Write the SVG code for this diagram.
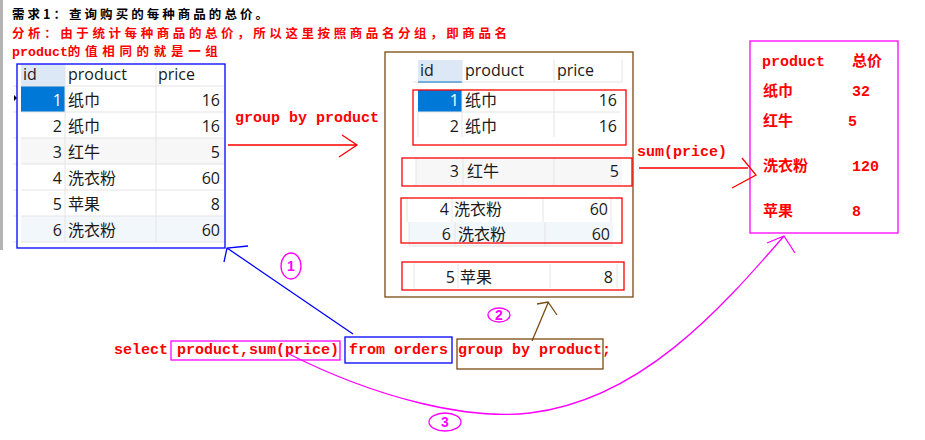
<svg xmlns="http://www.w3.org/2000/svg" width="925" height="440" viewBox="0 0 925 440">
<style>
.t{font-family:"Open Sans","Noto Sans CJK SC",sans-serif;font-size:16px;fill:#1a1a1a}
.e{text-anchor:end}
.w{fill:#ffffff}
.r{font-family:"Liberation Mono","Noto Sans CJK SC",monospace;font-weight:bold;font-size:15px;fill:#ff0000}
.h{font-family:"Noto Sans CJK SC",sans-serif;font-weight:bold;font-size:12.5px}
.g{stroke:#e4e4e4;stroke-width:1;fill:none}
.rb{fill:none;stroke:#ff0000;stroke-width:1.3}
.mg{fill:none;stroke:#ff00ff;stroke-width:1.3}
.bl{fill:none;stroke:#0000ff;stroke-width:1.3}
.br{fill:none;stroke:#7b4a12;stroke-width:1.3}
.sel{fill:#0078d7}
.hd{fill:#dce8f5}
.num{font-family:"Liberation Sans","Noto Sans CJK SC",sans-serif;font-weight:bold;font-size:14px;fill:#ff00ff;text-anchor:middle}
</style>
<rect width="925" height="440" fill="#ffffff"/>
<rect x="0" y="0" width="3" height="250" fill="#b4b4b4"/>

<g id="title">
<text class="h" x="12" y="19" fill="#000000" textLength="256" lengthAdjust="spacing">需求1：查询购买的每种商品的总价。</text>
<text class="h" x="12" y="37.5" fill="#ff0000" textLength="495" lengthAdjust="spacing">分析：由于统计每种商品的总价，所以这里按照商品名分组，即商品名</text>
<text class="h" x="12" y="56" fill="#ff0000"><tspan font-family="Liberation Mono,monospace" font-size="13.3px">product</tspan><tspan textLength="150" lengthAdjust="spacing">的值相同的就是一组</tspan></text>
</g>

<g id="left-table">
<rect x="21" y="138" width="203" height="26" fill="#f7f7f7"/>
<rect x="21" y="216" width="203" height="26" fill="#f2f7fc"/>
<rect class="hd" x="21" y="64" width="44" height="22"/>
<rect class="sel" x="21" y="86" width="44" height="26"/>
<path class="g" d="M21 86H224M21 112H224M21 138H224M21 164H224M21 190H224M21 216H224M21 242H224M65 64V242M156 64V242"/>
<path class="g" d="M13 86H18M13 112H18M13 138H18M13 164H18M13 190H18M13 216H18M13 242H18"/>
<path d="M14 95L17 98L14 101Z" fill="#000"/>
<text class="t" x="23" y="80">id</text>
<text class="t" x="68" y="80">product</text>
<text class="t" x="158" y="80">price</text>
<text class="t e w" x="62" y="106">1</text><text class="t" x="68" y="106">纸巾</text><text class="t e" x="220" y="106">16</text>
<text class="t e" x="62" y="132">2</text><text class="t" x="68" y="132">纸巾</text><text class="t e" x="220" y="132">16</text>
<text class="t e" x="62" y="158">3</text><text class="t" x="68" y="158">红牛</text><text class="t e" x="220" y="158">5</text>
<text class="t e" x="62" y="184">4</text><text class="t" x="68" y="184">洗衣粉</text><text class="t e" x="220" y="184">60</text>
<text class="t e" x="62" y="210">5</text><text class="t" x="68" y="210">苹果</text><text class="t e" x="220" y="210">8</text>
<text class="t e" x="62" y="236">6</text><text class="t" x="68" y="236">洗衣粉</text><text class="t e" x="220" y="236">60</text>
<rect x="17" y="64" width="208" height="184" class="bl"/>
</g>

<g id="grouped-table">
<rect x="385" y="52" width="248" height="245" class="br"/>
<rect class="hd" x="418" y="60" width="44" height="22"/>
<rect x="418" y="81" width="44" height="2" fill="#0078d7"/>
<path class="g" d="M413 82H622M462 60V82M554 60V82M622 60V82"/>
<text class="t" x="420" y="76">id</text>
<text class="t" x="465" y="76">product</text>
<text class="t" x="557" y="76">price</text>

<rect class="sel" x="418" y="90" width="44" height="22"/>
<path class="g" d="M418 112H620M462 90V137M554 90V137M418 112V137"/>
<text class="t e w" x="459" y="106">1</text><text class="t" x="465" y="106">纸巾</text><text class="t e" x="617" y="106">16</text>
<text class="t e" x="459" y="132">2</text><text class="t" x="465" y="132">纸巾</text><text class="t e" x="617" y="132">16</text>
<rect x="413" y="90" width="213" height="55" class="rb"/>

<rect x="416" y="157" width="206" height="28" fill="#f7f7f7"/>
<path class="g" d="M416 157V185M463 157V185M554 157V185"/>
<text class="t e" x="459" y="177">3</text><text class="t" x="467" y="177">红牛</text><text class="t e" x="619" y="177">5</text>
<rect x="402" y="158" width="230" height="28" class="rb"/>

<rect x="409" y="222" width="204" height="24" fill="#f2f7fc"/>
<path class="g" d="M407 198V222M452 198V222M543 198V222M611 198V222M409 222V246M455 222V246M545 222V246M409 246H613"/>
<text class="t e" x="449" y="215">4</text><text class="t" x="454" y="215">洗衣粉</text><text class="t e" x="608" y="215">60</text>
<text class="t e" x="451" y="240">6</text><text class="t" x="458" y="240">洗衣粉</text><text class="t e" x="610" y="240">60</text>
<rect x="401" y="198" width="221" height="45" class="rb"/>

<path class="g" d="M414 264V288M458 264V288M550 264V288M617 264V288"/>
<text class="t e" x="455" y="283">5</text><text class="t" x="460" y="283">苹果</text><text class="t e" x="613" y="283">8</text>
<rect x="402" y="262" width="222" height="28" class="rb"/>
</g>

<g id="result-box">
<rect x="750" y="41" width="148" height="192" class="mg"/>
<text class="r" x="762" y="66">product</text><text class="r" x="852" y="66">总价</text>
<text class="r" x="763" y="96">纸巾</text><text class="r" x="852" y="96">32</text>
<text class="r" x="763" y="126">红牛</text><text class="r" x="848" y="126">5</text>
<text class="r" x="763" y="171">洗衣粉</text><text class="r" x="852" y="171">120</text>
<text class="r" x="763" y="216">苹果</text><text class="r" x="852" y="216">8</text>
</g>

<g id="sql">
<text class="r" x="114" y="354">select</text>
<rect x="171" y="341" width="169" height="19" class="mg"/>
<text class="r" x="177" y="354">product,sum(price)</text>
<rect x="345" y="337" width="107" height="26" class="bl"/>
<text class="r" x="349" y="354">from orders</text>
<rect x="457" y="339" width="146" height="30" class="br"/>
<text class="r" x="458" y="354">group by product;</text>
</g>

<g id="labels">
<text class="r" x="235" y="122">group by product</text>
<text class="r" x="637" y="156">sum(price)</text>
<ellipse cx="291" cy="266" rx="10" ry="13" class="mg"/>
<text class="num" x="291" y="271">1</text>
<ellipse cx="499" cy="315" rx="11" ry="7" class="mg"/>
<text class="num" x="499" y="320">2</text>
<ellipse cx="445" cy="422" rx="16" ry="9" class="mg"/>
<text class="num" x="445" y="427">3</text>
</g>

<g id="connectors">
<path d="M228 145H356M342 135L357 145L339 157" stroke="#ff0000" stroke-width="1.3" fill="none"/>
<path d="M639 168H748M742 158L756 175L732 188" stroke="#ff0000" stroke-width="1.3" fill="none"/>
<path d="M353 334L227 248M248 246L227 248L224 262" class="bl"/>
<path d="M532 341L548 303M537 304L548 302L557 315" class="br"/>
<path d="M287 353C380 400 470 420 530 413C640 400 720 310 784 236M767 243L784 236L795 253" class="mg"/>
</g>
</svg>
